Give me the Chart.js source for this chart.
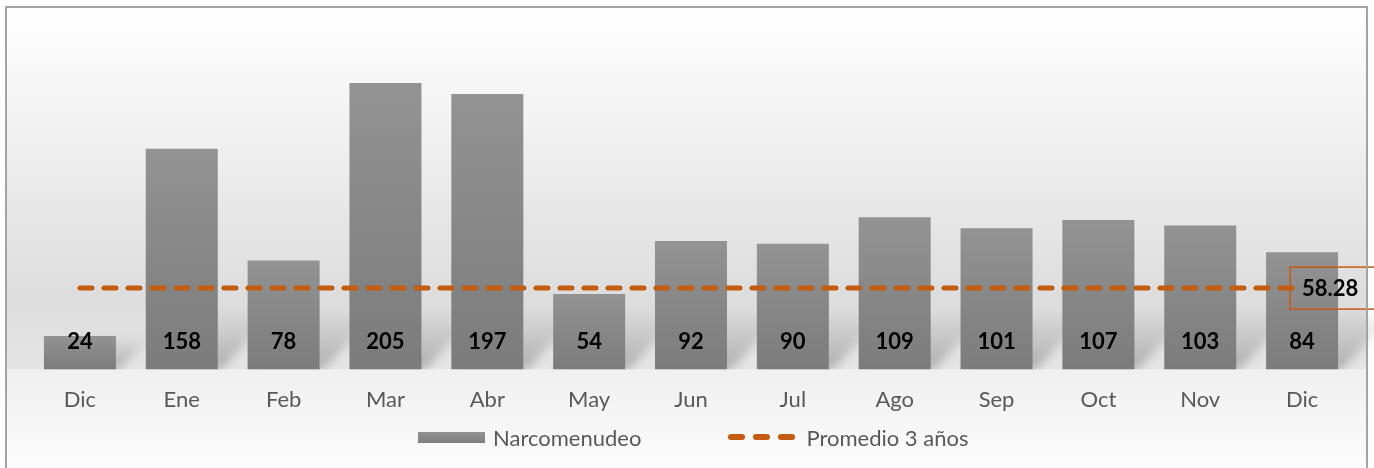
<!DOCTYPE html>
<html>
<head>
<meta charset="utf-8">
<script src="https://cdn.jsdelivr.net/npm/chart.js@4/dist/chart.umd.min.js"></script>
<style>
  html, body { margin: 0; padding: 0; background: #ffffff; }
  #wrap { width: 1374px; height: 468px; position: relative; overflow: hidden; }
  #c { position: absolute; left: 0; top: 0; }
  #legend { position: absolute; left: 418px; top: 424px; height: 26px; display: flex; align-items: center;
            font-family: Lato, "Open Sans", "Liberation Sans", sans-serif; font-size: 22px; color: #595959; white-space: nowrap; }
  .item { display: flex; align-items: center; }
  .swatch-bar { width: 67px; height: 11px; background: linear-gradient(#929292, #7e7e7e); margin-right: 8px; }
  .swatch-line { width: 67px; height: 6px; display: flex; justify-content: space-between; margin-right: 11px; }
  .swatch-line span { width: 17px; height: 6px; border-radius: 3px; background: #C55A11; }
</style>
</head>
<body>
<div id="wrap">
  <canvas id="c" width="1374" height="468"></canvas>
  <div id="legend"></div>
</div>
<script>
const categories = ['Dic', 'Ene', 'Feb', 'Mar', 'Abr', 'May', 'Jun', 'Jul', 'Ago', 'Sep', 'Oct', 'Nov', 'Dic'];
const narcomenudeo = [24, 158, 78, 205, 197, 54, 92, 90, 109, 101, 107, 103, 84];
const promedio3Anios = [58.28, 58.28, 58.28, 58.28, 58.28, 58.28, 58.28, 58.28, 58.28, 58.28, 58.28, 58.28, 58.28];
const promedioLabel = '58.28';
const seriesNames = ['Narcomenudeo', 'Promedio 3 años'];

const FONT = 'Lato, "Open Sans", "Liberation Sans", sans-serif';
const ORANGE = '#C55A11';

// HTML legend (real text)
(function buildLegend() {
  const lg = document.getElementById('legend');
  const i1 = document.createElement('div');
  i1.className = 'item';
  i1.innerHTML = '<div class="swatch-bar"></div>';
  i1.appendChild(document.createTextNode(seriesNames[0]));
  const i2 = document.createElement('div');
  i2.className = 'item';
  i2.style.marginLeft = '87px';
  i2.innerHTML = '<div class="swatch-line"><span></span><span></span><span></span></div>';
  i2.appendChild(document.createTextNode(seriesNames[1]));
  lg.appendChild(i1);
  lg.appendChild(i2);
})();

const backgroundPlugin = {
  id: 'bg',
  beforeDraw(chart) {
    const ctx = chart.ctx;
    const W = chart.width, H = chart.height;
    const base = chart.scales.y.getPixelForValue(0);
    ctx.save();
    ctx.fillStyle = '#ffffff';
    ctx.fillRect(0, 0, W, H);
    let g = ctx.createLinearGradient(0, 7, 0, base);
    g.addColorStop(0, '#ffffff');
    g.addColorStop(0.3, '#f3f3f3');
    g.addColorStop(0.6, '#e6e6e6');
    g.addColorStop(0.8, '#dddddd');
    g.addColorStop(1, '#e5e5e5');
    ctx.fillStyle = g;
    ctx.fillRect(6, 7, W - 12, base - 7);
    g = ctx.createLinearGradient(0, base, 0, H);
    g.addColorStop(0, '#f0f0f0');
    g.addColorStop(1, '#fcfcfc');
    ctx.fillStyle = g;
    ctx.fillRect(6, base, W - 12, H - base);
    ctx.restore();
  },
  beforeDatasetsDraw(chart) {
    const ctx = chart.ctx;
    const meta = chart.getDatasetMeta(0);
    const base = chart.scales.y.getPixelForValue(0);
    ctx.save();
    ctx.beginPath();
    ctx.rect(0, 0, chart.width, base);
    ctx.clip();
    ctx.filter = 'blur(5px)';
    meta.data.forEach((bar) => {
      const p = bar.getProps(['x', 'y', 'width', 'base'], true);
      const left = p.x - p.width / 2, right = p.x + p.width / 2;
      const h = Math.min(p.base - p.y, 62);
      const sk = 0.9;
      const g = ctx.createLinearGradient(0, p.base, 0, p.base - h);
      g.addColorStop(0, 'rgba(0,0,0,0.24)');
      g.addColorStop(1, 'rgba(0,0,0,0)');
      ctx.fillStyle = g;
      ctx.beginPath();
      ctx.moveTo(left + 4, p.base);
      ctx.lineTo(right + 4, p.base);
      ctx.lineTo(right + 4 + h * sk, p.base - h);
      ctx.lineTo(left + 4 + h * sk, p.base - h);
      ctx.closePath();
      ctx.fill();
    });
    ctx.restore();
  },
  afterDraw(chart) {
    const ctx = chart.ctx;
    const meta = chart.getDatasetMeta(0);
    const base = chart.scales.y.getPixelForValue(0);
    ctx.save();
    // data labels
    ctx.font = 'bold 22px ' + FONT;
    ctx.fillStyle = '#000000';
    ctx.textAlign = 'center';
    ctx.textBaseline = 'middle';
    meta.data.forEach((bar, i) => {
      ctx.fillText(String(narcomenudeo[i]), bar.x, base - 28);
    });
    // average label box
    const lineMeta = chart.getDatasetMeta(1);
    const last = lineMeta.data[lineMeta.data.length - 1];
    const bx = last.x - 12, by = last.y - 21;
    ctx.strokeStyle = ORANGE;
    ctx.lineWidth = 1.5;
    ctx.strokeRect(bx, by, 90, 42);
    ctx.fillStyle = '#000000';
    ctx.font = 'bold 22px ' + FONT;
    ctx.fillText(promedioLabel, bx + 40, last.y + 1);
    // outer border
    ctx.strokeStyle = '#a3a3a3';
    ctx.lineWidth = 2;
    ctx.strokeRect(6, 7, chart.width - 13, chart.height + 20);
    ctx.restore();
  }
};

const ctx = document.getElementById('c').getContext('2d');
new Chart(ctx, {
  data: {
    labels: categories,
    datasets: [
      {
        type: 'bar',
        label: seriesNames[0],
        data: narcomenudeo,
        order: 1,
        barPercentage: 0.707,
        categoryPercentage: 1.0,
        backgroundColor: (c) => {
          const chart = c.chart;
          if (!chart.chartArea || c.dataIndex === undefined) return '#888888';
          const ys = chart.scales.y;
          const top = ys.getPixelForValue(narcomenudeo[c.dataIndex]);
          const bot = ys.getPixelForValue(0);
          const g = chart.ctx.createLinearGradient(0, top, 0, bot);
          g.addColorStop(0, '#939393');
          g.addColorStop(0.5, '#878787');
          g.addColorStop(1, '#7c7c7c');
          return g;
        },
        borderWidth: 0
      },
      {
        type: 'line',
        label: seriesNames[1],
        data: promedio3Anios,
        order: 0,
        borderColor: ORANGE,
        borderWidth: 5,
        borderDash: [12, 12],
        borderCapStyle: 'round',
        pointRadius: 0,
        fill: false,
        tension: 0
      }
    ]
  },
  options: {
    responsive: false,
    animation: false,
    devicePixelRatio: 1,
    layout: { padding: { left: 29, right: 21, top: 20, bottom: 38 } },
    scales: {
      x: {
        offset: true,
        grid: { display: false, drawTicks: false },
        border: { display: false },
        ticks: { color: '#595959', font: { family: FONT, size: 22 }, padding: 17 }
      },
      y: {
        display: false,
        min: 0,
        max: 250
      }
    },
    plugins: {
      tooltip: { enabled: false },
      legend: { display: false }
    }
  },
  plugins: [backgroundPlugin]
});
</script>
</body>
</html>
